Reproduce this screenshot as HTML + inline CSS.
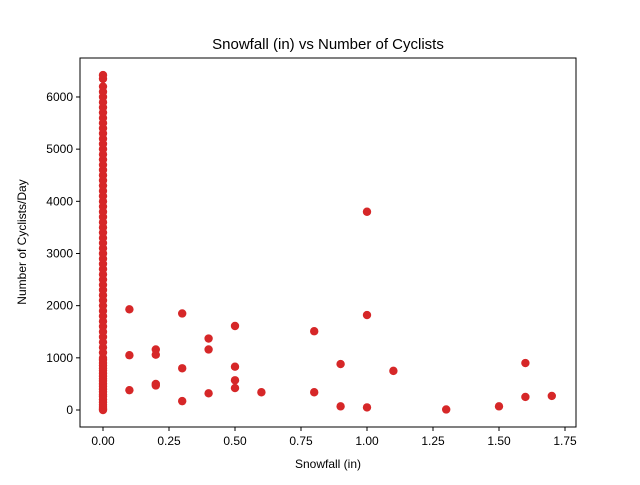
<!DOCTYPE html>
<html><head><meta charset="utf-8"><style>
body{margin:0;background:#fff;}
svg text{font-family:"Liberation Sans","DejaVu Sans",sans-serif;fill:#000;}
</style></head><body>
<svg id="chart" width="640" height="480">
<rect width="640" height="480" fill="#fff"/>
<text x="328" y="49" font-size="15" text-anchor="middle">Snowfall (in) vs Number of Cyclists</text>
<g id="plot"></g>
<rect x="80" y="58" width="496" height="369" fill="none" stroke="#000" stroke-width="1"/>
<text x="328" y="468" font-size="12" text-anchor="middle">Snowfall (in)</text>
<text x="26" y="242" font-size="12" text-anchor="middle" transform="rotate(-90 26 242)">Number of Cyclists/Day</text>
</svg>
<script>
const xTicks=[0,0.25,0.5,0.75,1.0,1.25,1.5,1.75];
const xTickLabels=["0.00","0.25","0.50","0.75","1.00","1.25","1.50","1.75"];
const yTicks=[0,1000,2000,3000,4000,5000,6000];
const zeroSnowCyclists=[0,20,60,100,150,200,260,300,350,400,450,500,560,600,650,700,760,800,850,900,960,1000,1100,1200,1300,1400,1500,1600,1700,1800,1900,2000,2100,2200,2300,2400,2500,2600,2700,2800,2900,3000,3100,3200,3300,3400,3500,3600,3700,3800,3900,4000,4100,4200,4300,4400,4500,4600,4700,4800,4900,5000,5100,5200,5300,5400,5500,5600,5700,5800,5900,6000,6100,6200,6350,6420];
const snowX=[0.1,0.1,0.1,0.2,0.2,0.2,0.2,0.3,0.3,0.3,0.4,0.4,0.4,0.5,0.5,0.5,0.5,0.6,0.8,0.8,0.9,0.9,1.0,1.0,1.0,1.1,1.3,1.5,1.6,1.6,1.7];
const snowY=[1930,1050,380,1160,1060,500,470,1850,800,170,1370,1160,320,1610,830,570,420,340,1510,340,880,70,3800,1820,50,750,10,70,900,250,270];
const NS="http://www.w3.org/2000/svg";
const xs=v=>103+v*264;
const ys=v=>410-v*0.05217;
const g=document.getElementById('plot');
function mk(t,a){const e=document.createElementNS(NS,t);for(const k in a)e.setAttribute(k,a[k]);g.appendChild(e);return e;}
xTicks.forEach((t,i)=>{
  const l=mk('line',{x1:xs(t),x2:xs(t),y1:427,y2:431,stroke:'#000'});
  
  
  const tx=mk('text',{x:xs(t),y:445,'font-size':12,'text-anchor':'middle'});
  tx.textContent=xTickLabels[i];
  
  
});
yTicks.forEach(t=>{
  const l=mk('line',{x1:76,x2:80,y1:ys(t),y2:ys(t),stroke:'#000'});
  
  
  const tx=mk('text',{x:73,y:ys(t)+4,'font-size':12,'text-anchor':'end'});
  tx.textContent=String(t);
  
  
});
zeroSnowCyclists.forEach(v=>{
  const c=mk('circle',{cx:xs(0),cy:ys(v),r:4.2,fill:'#d62728'});
  
  
});
snowX.forEach((x,i)=>{
  const c=mk('circle',{cx:xs(x),cy:ys(snowY[i]),r:4.2,fill:'#d62728'});
  
  
});
</script>
</body></html>
